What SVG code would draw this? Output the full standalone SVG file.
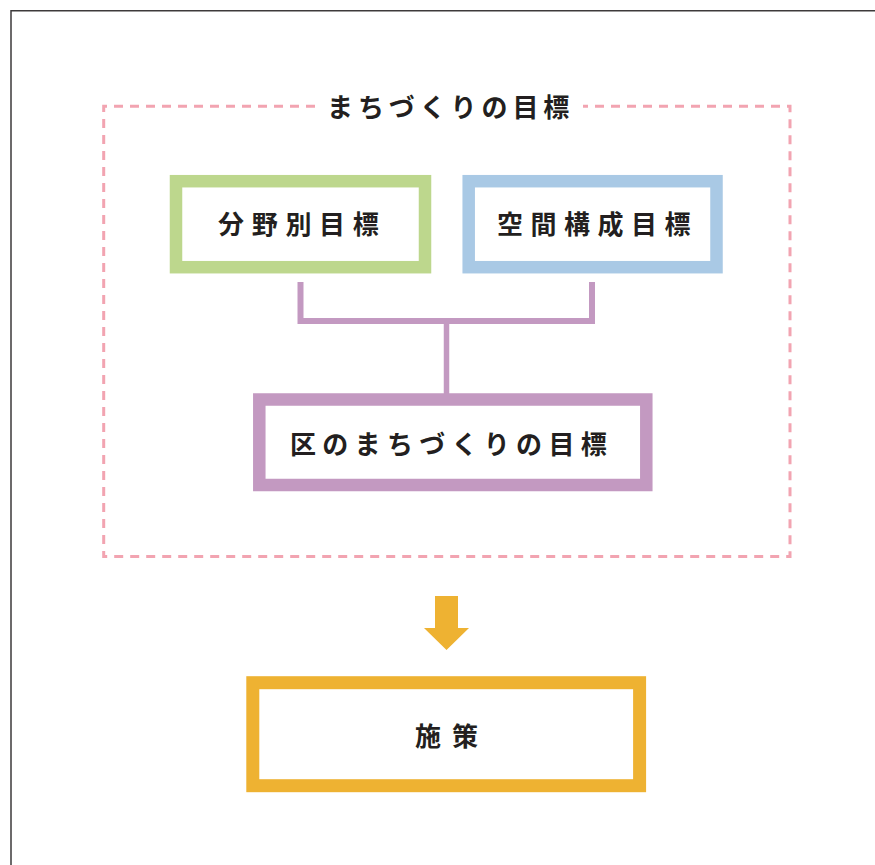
<svg xmlns="http://www.w3.org/2000/svg" width="875" height="865" viewBox="0 0 875 865">
<style>
.lbl{font-family:"Noto Sans CJK JP","Noto Sans CJK SC",sans-serif;font-weight:700;font-size:26px;fill:#231f20}
.box{fill:#ffffff}
.conn{fill:none;stroke:#c399c1;stroke-linejoin:miter}
</style>
<rect width="875" height="865" fill="#ffffff"/>
<path d="M11 865 V10.7 H875" fill="none" stroke="#3d3a3b" stroke-width="1.5"/>
<g id="group-frame">
<path d="M315 106.3 H103.7 V556.5 H790 V106.3 H583" fill="none" stroke="#f2a4b1" stroke-width="3" stroke-dasharray="9 7"/>
<text class="lbl" x="327" y="117" style="letter-spacing:4.9px">まちづくりの目標</text>
</g>
<g id="connectors">
<polyline class="conn" points="300.5,282 300.5,321 592,321 592,282" stroke-width="6"/>
<line class="conn" x1="446.5" y1="321" x2="446.5" y2="394" stroke-width="5.5"/>
<polygon points="435,596 458,596 458,628 469,628 446.5,650 424,628 435,628" fill="#eeb232"/>
</g>
<g id="node-bunya">
<rect class="box" x="176" y="181.2" width="249" height="86" stroke="#bdd78d" stroke-width="12.5"/>
<text class="lbl" x="218" y="234" style="letter-spacing:7.7px">分野別目標</text>
</g>
<g id="node-kukan">
<rect class="box" x="468.7" y="181.2" width="247.8" height="86" stroke="#a9c9e5" stroke-width="12.5"/>
<text class="lbl" x="497" y="234" style="letter-spacing:7.5px">空間構成目標</text>
</g>
<g id="node-ku">
<rect class="box" x="259.3" y="399.5" width="387" height="85.5" stroke="#c399c1" stroke-width="12.5"/>
<text class="lbl" x="290" y="454" style="letter-spacing:6.3px">区のまちづくりの目標</text>
</g>
<g id="node-shisaku">
<rect class="box" x="252.8" y="682.7" width="386.8" height="103" stroke="#eeb232" stroke-width="13"/>
<text class="lbl" x="415" y="745.5" style="letter-spacing:11px">施策</text>
</g>
</svg>
